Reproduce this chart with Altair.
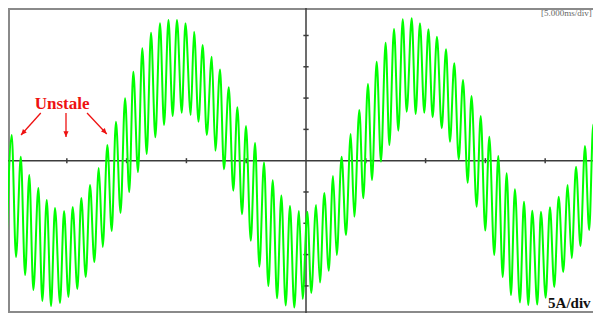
import altair as alt
import pandas as pd

# Oscilloscope trace: time (ms) and current (A) of successive extrema of the ripple
t_ms = [0.00, 0.39, 0.75, 1.15, 1.51, 1.86, 2.20, 2.62, 2.95, 3.32, 3.68, 4.01, 4.43, 4.77,
        5.13, 5.49, 5.88, 6.21, 6.58, 6.94, 7.30, 7.67, 8.00, 8.39, 8.75, 9.11, 9.49, 9.87,
        10.22, 10.56, 10.95, 11.31, 11.68, 12.04, 12.40, 12.79, 13.13, 13.50, 13.85, 14.21,
        14.61, 14.92, 15.36, 15.64, 16.01, 16.36, 16.70, 17.12, 17.42, 17.81, 18.14, 18.54,
        18.92, 19.26, 19.65, 19.98, 20.38, 20.74, 21.10, 21.49, 21.85, 22.22, 22.58, 22.94,
        23.30, 23.66, 24.02, 24.41, 24.72, 25.11, 25.44, 25.84, 26.17, 26.53, 26.90, 27.26,
        27.57, 27.98, 28.34, 28.74, 29.04, 29.46, 29.79, 30.18, 30.52, 30.91, 31.27, 31.66,
        31.97, 32.36, 32.72, 33.09, 33.42, 33.84, 34.17, 34.53, 34.89, 35.24, 35.59, 35.95,
        36.35, 36.71, 37.04, 37.40, 37.77, 38.13, 38.52, 38.84, 39.27, 39.61, 39.99, 40.33,
        40.74, 41.08, 41.45, 41.78, 42.14, 42.47, 42.89, 43.23, 43.59, 43.92, 44.34, 44.65,
        45.04, 45.40, 45.76, 46.13, 46.51, 46.88, 47.22, 47.58, 47.95, 48.33, 48.68, 49.02,
        49.39, 49.64]
i_amp = [-11.07, 4.11, -15.38, 0.64, -18.26, -2.28, -20.65, -4.36, -22.41, -6.28, -23.21, -7.56,
         -22.73, -8.04, -21.77, -7.40, -20.50, -5.96, -18.58, -3.88, -16.18, -1.17, -13.79, 2.51,
         -11.23, 6.23, -8.35, 9.97, -5.00, 14.22, -1.81, 17.95, 1.07, 20.45, 3.74, 21.95, 5.70,
         22.48, 7.14, 22.48, 7.67, 21.95, 7.30, 20.61, 6.23, 18.48, 4.11, 16.61, 1.60, 14.57,
         -1.37, 11.73, -4.79, 8.53, -8.56, 5.54, -12.78, 2.83, -16.93, -0.29, -20.02, -3.13,
         -21.98, -5.56, -23.13, -7.24, -23.45, -8.04, -22.09, -8.15, -21.13, -7.08, -19.46, -5.16,
         -17.57, -2.44, -15.06, 0.64, -11.87, 4.27, -8.95, 8.10, -6.01, 12.25, -3.08, 15.81,
         -0.16, 18.85, 2.51, 21.04, 4.79, 22.59, 7.83, 22.75, 7.46, 21.95, 7.67, 20.99, 6.93,
         19.81, 5.18, 17.80, 3.04, 15.56, 0.22, 12.89, -3.51, 10.34, -7.35, 7.14, -11.15, 3.83,
         -15.06, 0.75, -18.58, -2.01, -21.45, -4.57, -22.65, -6.55, -23.05, -7.99, -22.97, -8.15,
         -21.90, -7.44, -20.18, -5.75, -17.78, -3.88, -15.54, -0.96, -13.63, 2.35, -11.07, 5.81,
         -7.56, 9.70]

x_ticks_ms = [5, 10, 15, 20, 30, 35, 40, 45]
y_ticks_A = [-20, -15, -10, -5, 5, 10, 15, 20]
center_ms = 25

# annotation arrows (start -> tip) in ms / A
arrow_t0 = [2.82, 4.93, 6.69]
arrow_i0 = [7.62, 7.62, 7.62]
arrow_t1 = [1.17, 4.93, 8.34]
arrow_i1 = [4.11, 3.79, 4.27]
arrow_angle = [42, 0, 317]

W, H = 585, 305
xs = alt.Scale(domain=[0.08, 49.0], nice=False, zero=False)
ys = alt.Scale(domain=[-24.33, 24.39], nice=False, zero=False)

trace = pd.DataFrame({"t": t_ms, "i": i_amp, "k": list(range(len(t_ms)))})
one = pd.DataFrame({"a": [0]})

wave = alt.Chart(trace).mark_line(
    color="#00ff00", strokeWidth=2, interpolate="monotone", clip=True
).encode(
    x=alt.X("t:Q", scale=xs, axis=None),
    y=alt.Y("i:Q", scale=ys, axis=None),
    order="k:Q",
)

frame_col = "#8a8a8a"
frame_top = alt.Chart(one).mark_rule(color=frame_col, strokeWidth=2).encode(
    x=alt.value(0), x2=alt.value(W), y=alt.value(1))
frame_bot = alt.Chart(one).mark_rule(color=frame_col, strokeWidth=2).encode(
    x=alt.value(0), x2=alt.value(W), y=alt.value(H - 1))
frame_left = alt.Chart(one).mark_rule(color=frame_col, strokeWidth=2).encode(
    x=alt.value(1), y=alt.value(0), y2=alt.value(H))

axis_col = "#3c3c3c"
h_axis = alt.Chart(one).mark_rule(color=axis_col, strokeWidth=1.5).encode(
    y=alt.Y(datum=0, type="quantitative", scale=ys, axis=None),
    x=alt.value(0), x2=alt.value(W))
v_axis = alt.Chart(one).mark_rule(color=axis_col, strokeWidth=1.5).encode(
    x=alt.X(datum=center_ms, type="quantitative", scale=xs, axis=None),
    y=alt.value(0), y2=alt.value(H))

xt = pd.DataFrame({"t": x_ticks_ms, "lo": [-0.4] * len(x_ticks_ms), "hi": [0.4] * len(x_ticks_ms)})
x_tick_marks = alt.Chart(xt).mark_rule(color=axis_col, strokeWidth=1.5).encode(
    x=alt.X("t:Q", scale=xs, axis=None),
    y=alt.Y("lo:Q", scale=ys, axis=None), y2="hi:Q")
yt = pd.DataFrame({"i": y_ticks_A, "lo": [center_ms - 0.22] * len(y_ticks_A),
                   "hi": [center_ms + 0.22] * len(y_ticks_A)})
y_tick_marks = alt.Chart(yt).mark_rule(color=axis_col, strokeWidth=1.5).encode(
    y=alt.Y("i:Q", scale=ys, axis=None),
    x=alt.X("lo:Q", scale=xs, axis=None), x2="hi:Q")

arr = pd.DataFrame({"t0": arrow_t0, "i0": arrow_i0, "t1": arrow_t1, "i1": arrow_i1, "ang": arrow_angle})
arrow_lines = alt.Chart(arr).mark_rule(color="#ee1111", strokeWidth=1.3).encode(
    x=alt.X("t0:Q", scale=xs, axis=None), y=alt.Y("i0:Q", scale=ys, axis=None),
    x2="t1:Q", y2="i1:Q")
arrow_heads = alt.Chart(arr).mark_point(
    shape="M0,0L-0.45,-1L0.45,-1Z", filled=True, color="#ee1111", opacity=1, size=130
).encode(
    x=alt.X("t1:Q", scale=xs, axis=None), y=alt.Y("i1:Q", scale=ys, axis=None),
    angle=alt.Angle("ang:Q", scale=None))

unstale = alt.Chart(one).mark_text(
    text="Unstale", color="#ee1111", font="Liberation Serif", fontWeight="bold",
    fontSize=17, align="center", baseline="middle"
).encode(x=alt.X(datum=4.6, type="quantitative", scale=xs, axis=None),
         y=alt.Y(datum=9.06, type="quantitative", scale=ys, axis=None))

scale_y_txt = alt.Chart(one).mark_text(
    text="5A/div", color="#111111", font="Liberation Serif", fontWeight="bold",
    fontSize=15, align="right", baseline="middle"
).encode(x=alt.X(datum=48.8, type="quantitative", scale=xs, axis=None),
         y=alt.Y(datum=-22.73, type="quantitative", scale=ys, axis=None))

scale_x_txt = alt.Chart(one).mark_text(
    text="[5.000ms/div]", color="#666666", font="Liberation Serif",
    fontSize=9, align="right", baseline="middle"
).encode(x=alt.X(datum=48.9, type="quantitative", scale=xs, axis=None),
         y=alt.Y(datum=23.6, type="quantitative", scale=ys, axis=None))

chart = alt.layer(
    frame_top, frame_bot, frame_left, h_axis, v_axis, x_tick_marks, y_tick_marks,
    wave, arrow_lines, arrow_heads, unstale, scale_y_txt, scale_x_txt
).properties(
    width=W, height=H, padding=0, autosize=alt.AutoSizeParams(type="none"),
    background="white"
).configure_view(stroke=None)

chart.save("out.html", embed_options={"renderer": "svg", "actions": False})
